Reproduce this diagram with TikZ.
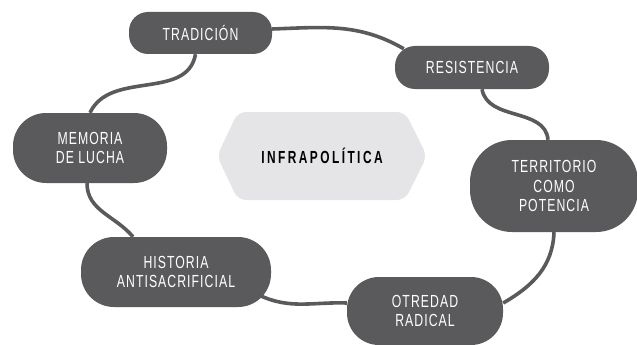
\documentclass[tikz,border=0pt]{standalone}
\usepackage{fontspec}
\setmainfont{Liberation Sans}[FakeStretch=0.70, LetterSpace=6]
\newfontfamily\hexfont{Liberation Sans}[FakeStretch=0.68, LetterSpace=14]
\usepackage{tikz}
\usetikzlibrary{backgrounds}
\definecolor{pillgray}{RGB}{90,90,92}
\definecolor{hexgray}{RGB}{229,229,231}

\begin{document}
\begin{tikzpicture}[x=1pt, y=-1pt,
    pill/.style={fill=pillgray, text=white, align=center, inner sep=0pt,
      font=\fontsize{17.5}{19.5}\selectfont},
    link/.style={draw=pillgray, line width=3.6pt}]
    \useasboundingbox (0,0) rectangle (637,345);

    % Centre hexagon
    \fill[hexgray, rounded corners=8pt] (217,156) -- (238,112) -- (405,112)
      -- (427,156) -- (405,200) -- (238,200) -- cycle;
    \node (infra) at (322,156) {\hexfont\bfseries\fontsize{17.5}{19.5}\selectfont INFRAPOLÍTICA};

    % Ring of concepts
    \node[pill, minimum width=143pt, minimum height=42pt, rounded corners=19pt]
      (trad) at (200.5,33) {TRADICIÓN};
    \node[pill, minimum width=154pt, minimum height=43pt, rounded corners=20pt]
      (resist) at (472,67.5) {RESISTENCIA};
    \node[pill, minimum width=168pt, minimum height=92pt, rounded corners=42pt]
      (terr) at (554,186) {TERRITORIO\\COMO\\POTENCIA};
    \node[pill, minimum width=156pt, minimum height=68pt, rounded corners=32pt]
      (otred) at (425,311) {OTREDAD\\RADICAL};
    \node[pill, minimum width=190pt, minimum height=70pt, rounded corners=33pt]
      (hist) at (176,272) {HISTORIA\\ANTISACRIFICIAL};
    \node[pill, minimum width=154pt, minimum height=70pt, rounded corners=33pt]
      (mem) at (90,148) {MEMORIA\\DE LUCHA};

    % Links
    \begin{pgfonlayer}{background}
      \draw[link] ([yshift=4pt]trad.east) to[out=2, in=150]
        ([xshift=9pt,yshift=-3pt]resist.north west);
      \draw[link] ([xshift=10pt]resist.south) to[out=-80, in=95]
        ([xshift=-6pt]terr.north);
      \draw[link] (terr.south) to[out=-92, in=30]
        ([yshift=8pt]otred.east);
      \draw[link] ([yshift=8pt]otred.west) to[out=178, in=-25]
        ([xshift=-12pt,yshift=12pt]hist.south east);
      \draw[link] ([xshift=-43pt]hist.north) to[out=130, in=-90]
        ([xshift=-3pt]mem.south);
      \draw[link] (mem.north) to[out=65, in=-100]
        ([xshift=-5pt]trad.south);
    \end{pgfonlayer}
\end{tikzpicture}
\end{document}
